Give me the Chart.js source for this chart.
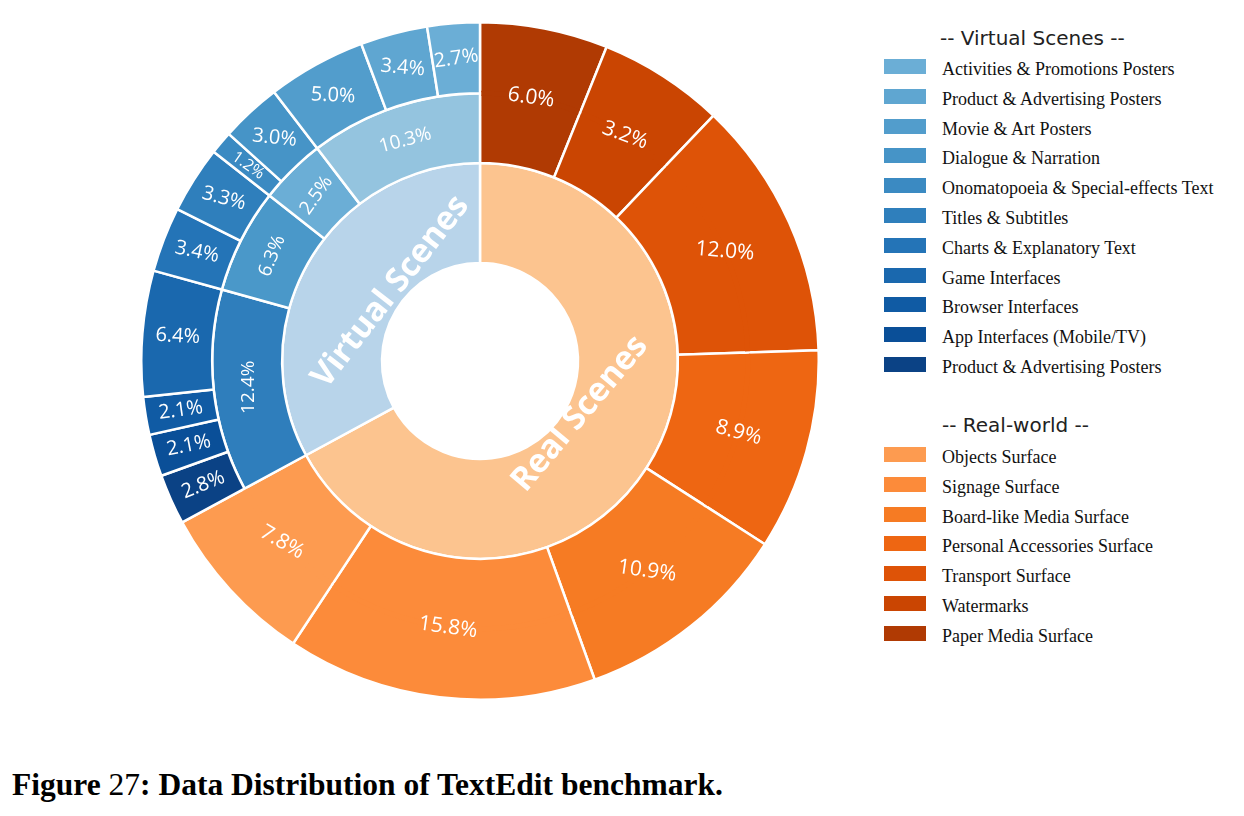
<!DOCTYPE html>
<html>
<head>
<meta charset="utf-8">
<script src="https://cdn.jsdelivr.net/npm/chart.js@4.4.1/dist/chart.umd.min.js"></script>
<style>
    html, body { margin: 0; padding: 0; background: #fff; }
    body { width: 1244px; height: 816px; position: relative; overflow: hidden; }
    #chartBox { position: absolute; left: 140px; top: 21px; width: 680px; height: 680px; }
    .legend-head { position: absolute; font-family: "DejaVu Sans"; font-size: 20px; line-height: 20px; color: #222; white-space: nowrap; }
    .legend-row { position: absolute; left: 884px; height: 15px; }
    .legend-row .swatch { position: absolute; left: 0; top: 0; width: 42px; height: 15px; }
    .legend-row .txt { position: absolute; left: 58px; top: 1px; font-family: "Liberation Serif"; font-size: 18px; line-height: 18px; color: #111; white-space: nowrap; }
    #caption { position: absolute; left: 12px; top: 769px; font-family: "Liberation Serif"; font-size: 31.5px; line-height: 31.5px; font-weight: bold; color: #000; white-space: nowrap; }
    #caption .num { font-weight: normal; }
</style>
</head>
<body>
<div id="chartBox"><canvas id="sunburst" width="680" height="680"></canvas></div>
<div id="legend"></div>
<div id="caption"><span>Figure</span><span class="num"> 27</span>: Data Distribution of TextEdit benchmark.</div>

<script>
// 범주 (범례 순서: 밝은색 → 어두운색)
const virtualCategories = ['Activities & Promotions Posters', 'Product & Advertising Posters', 'Movie & Art Posters',
    'Dialogue & Narration', 'Onomatopoeia & Special-effects Text', 'Titles & Subtitles', 'Charts & Explanatory Text',
    'Game Interfaces', 'Browser Interfaces', 'App Interfaces (Mobile/TV)', 'Product & Advertising Posters'];
const realCategories = ['Objects Surface', 'Signage Surface', 'Board-like Media Surface', 'Personal Accessories Surface',
    'Transport Surface', 'Watermarks', 'Paper Media Surface'];

// 바깥 고리 (각도 비율, 그림에서 읽은 값) 과 표시된 라벨
const virtualShare = [2.5, 3.2, 4.7, 2.9, 1.1, 3.2, 3.1, 6.0, 1.8, 2.0, 2.4];
const virtualLabels = ['2.7%', '3.4%', '5.0%', '3.0%', '1.2%', '3.3%', '3.4%', '6.4%', '2.1%', '2.1%', '2.8%'];
const realShare = [7.8, 14.8, 10.4, 9.6, 12.4, 6.0, 6.1];
const realLabels = ['7.8%', '15.8%', '10.9%', '8.9%', '12.0%', '3.2%', '6.0%'];

// 가운데 고리 (가상 장면 그룹)
const groupShare = [10.4, 4.0, 6.3, 12.2];
const groupLabels = ['10.3%', '2.5%', '6.3%', '12.4%'];

// 안쪽 고리
const sceneNames = ['Real Scenes', 'Virtual Scenes'];
const sceneShare = [67.1, 32.9];

// 색상
const virtualColors = ['#6baed6', '#5fa6d1', '#529dcc', '#4694c7', '#3b8ac2', '#2f7fbc', '#2474b7', '#1a68ae', '#105ba4', '#0a4f98', '#0b4285'];
const realColors = ['#fd9b50', '#fc8b3a', '#f67b23', '#ee6612', '#de5307', '#ca4502', '#b03a03'];
const groupColors = ['#94c4df', '#6baed6', '#4a98c9', '#2f7ebc'];
const sceneColors = ['#fcc48f', '#b8d4ea'];

// 라벨 기울기 (도)
const virtualTilt = [-8, 5, 3, 6, 35, 15, 12, 3, -8, -11, -22];
const realTilt = [30, 8, 8, 15, 5, 20, 8];
const groupTilt = [-15, -55, -68, -90];
const sceneTilt = [-50, -52];
const sceneShift = [-3, 7];

// 차트 순서 (12시 방향부터 시계방향: 어두운색 → 밝은색)
const rev = arr => arr.slice().reverse();
const nReal = realShare.length;

const outerData = rev(realShare).concat(rev(virtualShare));
const outerColors = rev(realColors).concat(rev(virtualColors));
const middleData = rev(realShare).concat(rev(groupShare));
const middleColors = rev(realColors).concat(rev(groupColors));

const LABEL_FONT = '"Open Sans", "Comic Sans MS", sans-serif';

function drawText(ctx, text, x, y, deg, font) {
    ctx.save();
    ctx.translate(x, y);
    ctx.rotate(deg * Math.PI / 180);
    ctx.font = font;
    ctx.fillStyle = '#fff';
    ctx.textAlign = 'center';
    ctx.textBaseline = 'middle';
    ctx.fillText(text, 0, 0);
    ctx.restore();
}

// 실제 장면 조각은 두 고리를 하나로 보이게 하고 라벨을 그림
const sunburstLabels = {
    id: 'sunburstLabels',
    afterDatasetsDraw(chart) {
        const ctx = chart.ctx;
        const outerMeta = chart.getDatasetMeta(0);
        const middleMeta = chart.getDatasetMeta(1);
        const innerMeta = chart.getDatasetMeta(2);
        const rReal = rev(realLabels), tReal = rev(realTilt);

        // 이음새 덮기
        for (let i = 0; i < nReal; i++) {
            const a = outerMeta.data[i];
            const pad = 1.3 / a.innerRadius;
            ctx.save();
            ctx.beginPath();
            ctx.arc(a.x, a.y, a.innerRadius, a.startAngle + pad, a.endAngle - pad);
            ctx.lineCap = 'butt';
            ctx.lineWidth = 5;
            ctx.strokeStyle = outerColors[i];
            ctx.stroke();
            ctx.restore();
        }

        // 실제 장면 라벨
        for (let i = 0; i < nReal; i++) {
            const a = outerMeta.data[i];
            const ang = (a.startAngle + a.endAngle) / 2;
            const r = (middleMeta.data[i].innerRadius + a.outerRadius) / 2;
            drawText(ctx, rReal[i], a.x + r * Math.cos(ang), a.y + r * Math.sin(ang), tReal[i], '21px ' + LABEL_FONT);
        }

        // 가상 장면 바깥 라벨
        const vLab = rev(virtualLabels), vTilt = rev(virtualTilt);
        for (let j = 0; j < vLab.length; j++) {
            const a = outerMeta.data[nReal + j];
            const p = a.getCenterPoint();
            const small = (a.endAngle - a.startAngle) < 0.08;
            drawText(ctx, vLab[j], p.x, p.y, vTilt[j], (small ? '16px ' : '20px ') + LABEL_FONT);
        }

        // 그룹 라벨
        const gLab = rev(groupLabels), gTilt = rev(groupTilt);
        for (let j = 0; j < gLab.length; j++) {
            const a = middleMeta.data[nReal + j];
            const p = a.getCenterPoint();
            drawText(ctx, gLab[j], p.x, p.y, gTilt[j], '19px ' + LABEL_FONT);
        }

        // 안쪽 라벨
        for (let k = 0; k < sceneNames.length; k++) {
            const a = innerMeta.data[k];
            const ang = (a.startAngle + a.endAngle) / 2 + sceneShift[k] * Math.PI / 180;
            const r = a.innerRadius + 0.15 * (a.outerRadius - a.innerRadius);
            drawText(ctx, sceneNames[k], a.x + r * Math.cos(ang), a.y + r * Math.sin(ang), sceneTilt[k],
                'bold 33px ' + LABEL_FONT);
        }
    }
};

new Chart(document.getElementById('sunburst'), {
    type: 'doughnut',
    data: {
        datasets: [
            { data: outerData, backgroundColor: outerColors, weight: 71 },
            { data: middleData, backgroundColor: middleColors, weight: 70 },
            { data: sceneShare, backgroundColor: sceneColors, weight: 100 }
        ]
    },
    options: {
        responsive: false,
        animation: false,
        events: [],
        cutout: 98,
        layout: { padding: 0 },
        elements: { arc: { borderColor: '#fff', borderWidth: 2.5, hoverOffset: 0, borderAlign: 'center' } },
        plugins: { legend: { display: false }, tooltip: { enabled: false } }
    },
    plugins: [sunburstLabels]
});

// 범례
function buildLegend() {
    const legend = document.getElementById('legend');
    let html = '<div class="legend-head" style="left:940px;top:28px">-- Virtual Scenes --</div>';
    virtualCategories.forEach((name, i) => {
        html += `<div class="legend-row" style="top:${59 + i * 29.8}px">
            <div class="swatch" style="background:${virtualColors[i]}"></div>
            <div class="txt">${name.replace(/&/g, '&amp;')}</div></div>`;
    });
    html += '<div class="legend-head" style="left:942px;top:415px">-- Real-world --</div>';
    realCategories.forEach((name, i) => {
        html += `<div class="legend-row" style="top:${447 + i * 29.8}px">
            <div class="swatch" style="background:${realColors[i]}"></div>
            <div class="txt">${name.replace(/&/g, '&amp;')}</div></div>`;
    });
    legend.innerHTML = html;
}
buildLegend();
</script>
</body>
</html>
